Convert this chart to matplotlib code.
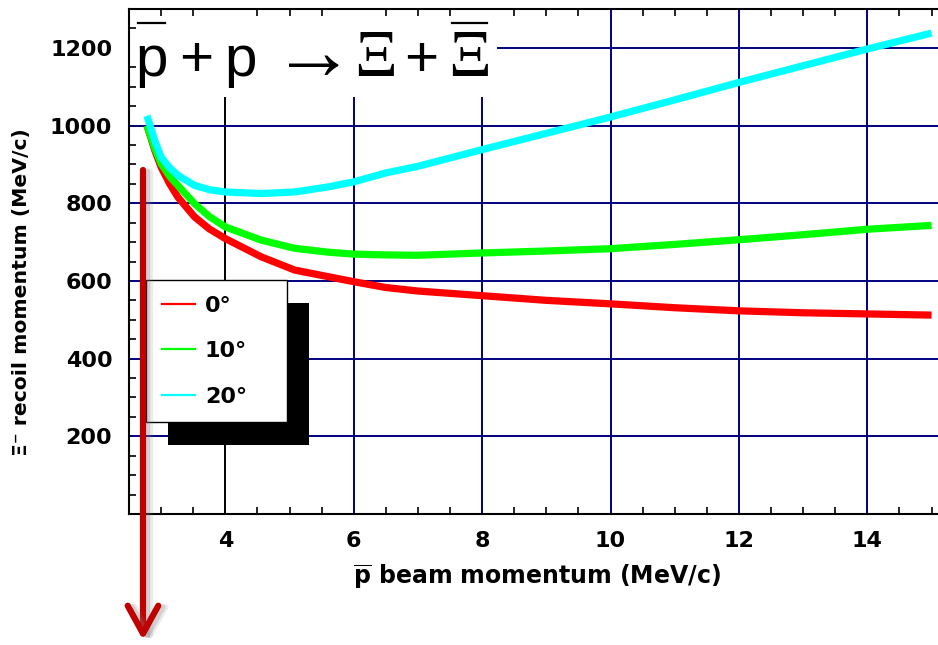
import matplotlib
matplotlib.use("Agg")
import matplotlib.pyplot as plt
from matplotlib.patches import Rectangle, FancyArrowPatch
from matplotlib.lines import Line2D
from matplotlib.ticker import MultipleLocator, FixedLocator
from matplotlib.transforms import IdentityTransform
import matplotlib.patheffects as pe

# Xi^- recoil momentum vs antiproton beam momentum for three recoil angles
beam_momentum = [2.78, 2.9, 3.0, 3.13, 3.26, 3.52, 3.75, 4.0, 4.56, 5.08, 5.6,
                 6.0, 6.5, 7.0, 8.0, 9.0, 10.0, 11.0, 12.0, 13.0, 14.0, 15.0]
recoil_0deg = [1000, 937, 893, 851, 816, 765, 734, 709, 662, 628, 611,
               598, 583, 574, 562, 550, 541, 531, 523, 518, 515, 512]
recoil_10deg = [1000, 942, 902, 870, 846, 799, 766, 739, 705, 684, 674,
                669, 667, 666, 672, 677, 683, 694, 706, 719, 733, 743]
recoil_20deg = [1025, 962, 919, 892, 872, 846, 835, 829, 825, 829, 842,
                855, 878, 895, 938, 980, 1022, 1066, 1111, 1154, 1197, 1238]

series_labels = ["0°", "10°", "20°"]
series_colors = ["#ff0000", "#00ff00", "#00ffff"]

x_major = [4, 6, 8, 10, 12, 14]
y_major = [200, 400, 600, 800, 1000, 1200]

LABEL_FONT = ["DejaVu Sans"]
EQ_SANS = ["Liberation Sans", "DejaVu Sans"]
EQ_SERIF = ["Liberation Serif", "DejaVu Serif"]
plt.rcParams["font.family"] = LABEL_FONT
plt.rcParams["mathtext.fontset"] = "custom"
plt.rcParams["mathtext.rm"] = "DejaVu Sans"
plt.rcParams["mathtext.bf"] = "DejaVu Sans:bold"

W, H = 938, 645
fig = plt.figure(figsize=(W / 100, H / 100), dpi=100)


def px(x, y):
    """Figure fraction from pixel position measured from the top-left."""
    return (x / W, 1 - y / H)


ax_left, ax_top, ax_bottom = 129, 9, 514
ax = fig.add_axes([ax_left / W, 1 - ax_bottom / H, 1 - ax_left / W,
                   (ax_bottom - ax_top) / H])
ax.set_xlim(2.5, 15.1)
ax.set_ylim(0, 1300)

# grid
navy = "#000080"
for xv in x_major:
    ax.axvline(xv, color="black" if xv == 4 else navy, lw=1.4, zorder=0.8)
for yv in y_major:
    ax.axhline(yv, color=navy, lw=1.4, zorder=0.8)

# white panel behind the reaction equation
ax.add_patch(Rectangle(px(ax_left, ax_top), 497 / W - ax_left / W,
                       -(97 - ax_top) / H, transform=fig.transFigure,
                       facecolor="white", edgecolor="none", zorder=1))

for yvals, color in zip([recoil_0deg, recoil_10deg, recoil_20deg], series_colors):
    ax.plot(beam_momentum, yvals, color=color, lw=5.2, zorder=2,
            solid_capstyle="butt", solid_joinstyle="round")

ax.xaxis.set_major_locator(FixedLocator(x_major))
ax.yaxis.set_major_locator(FixedLocator(y_major))
ax.xaxis.set_minor_locator(MultipleLocator(0.5))
ax.yaxis.set_minor_locator(MultipleLocator(50))
ax.tick_params(which="both", direction="in", top=True, bottom=True,
               left=True, right=False, labelsize=16)
ax.tick_params(which="major", length=0, pad=12)
ax.tick_params(which="minor", length=5, width=1.2)
for lbl in ax.get_xticklabels() + ax.get_yticklabels():
    lbl.set_fontweight("bold")
ax.spines["right"].set_visible(False)
for s in ("left", "bottom", "top"):
    ax.spines[s].set_linewidth(1.5)

# legend with a heavy drop shadow
handles = [Line2D([], [], color=c, lw=1.6) for c in series_colors]
lx0, ly0, lx1, ly1 = 146, 280, 287, 422
leg = ax.legend(handles, series_labels, loc="upper left",
                bbox_to_anchor=(lx0 / W, 1 - ly1 / H, (lx1 - lx0) / W,
                                (ly1 - ly0) / H),
                bbox_transform=fig.transFigure, mode="expand",
                borderaxespad=0, fancybox=False, framealpha=1,
                edgecolor="black", handlelength=1.5, handletextpad=0.45,
                labelspacing=1.15, borderpad=0.7,
                prop={"family": LABEL_FONT, "weight": "bold", "size": 16})
leg.get_frame().set_linewidth(1.0)

# reaction equation
pieces = [("p", 151.5, 76, EQ_SANS, 42), ("+", 196, 76, EQ_SANS, 42),
          ("p", 241, 76, EQ_SANS, 42), ("\u2192", 313.5, 79, EQ_SANS, 60),
          ("\u039e", 375, 76, EQ_SERIF, 48), ("+", 421, 76, EQ_SANS, 42),
          ("\u039e", 469.5, 76, EQ_SERIF, 48)]
for txt, cx, base, fam, size in pieces:
    fig.text(*px(cx, base), txt, ha="center", va="baseline", fontsize=size,
             family=fam)
for x0, x1 in [(138, 165), (452, 487)]:
    fig.add_artist(Line2D([x0 / W, x1 / W], [1 - 23 / H, 1 - 23 / H],
                          color="black", lw=1.6, transform=fig.transFigure))

# axis titles
fig.text(*px(22, 292), "\u039e\u207b recoil momentum (MeV/c)", rotation=90,
         ha="center", va="center", fontsize=14.7, fontweight="bold")
fig.text(*px(537, 577), r"$\overline{\mathbf{p}}$ beam momentum (MeV/c)",
         ha="center", va="center", fontsize=17, fontweight="bold")

# downward red arrow
arrow = FancyArrowPatch(px(143, 170), px(143, 640), transform=fig.transFigure,
                        arrowstyle="->,head_length=1.0,head_width=0.55",
                        mutation_scale=20, color="#c00000", lw=4.5,
                        shrinkA=0, shrinkB=0, zorder=6)
arrow.set_path_effects([
    pe.SimpleLineShadow(offset=(5, -1), shadow_color="gray", alpha=0.15),
    pe.SimpleLineShadow(offset=(3, -1), shadow_color="gray", alpha=0.25),
    pe.Normal()])
fig.add_artist(arrow)

fig.canvas.draw()
bb = leg.get_window_extent()
ax.add_patch(Rectangle((bb.x0 + 22, bb.y0 - 23), bb.width, bb.height,
                       transform=IdentityTransform(), facecolor="black",
                       edgecolor="none", zorder=4.9))

fig.savefig("out.png", dpi=100)
